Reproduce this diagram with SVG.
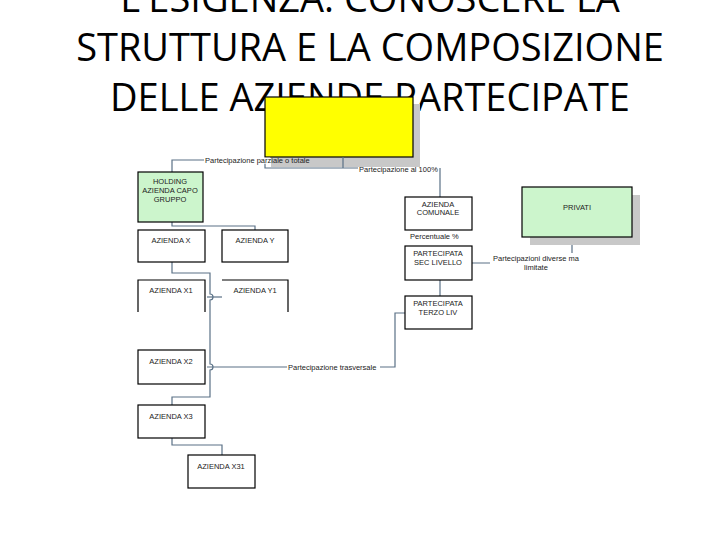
<svg xmlns="http://www.w3.org/2000/svg" width="720" height="540" viewBox="0 0 720 540">
<style>
.t{font-family:"Open Sans","Liberation Sans",sans-serif;font-size:38px;fill:#000;text-anchor:middle}
.b{fill:#fff;stroke:#000;stroke-width:1.2}
.g{fill:#ccf5cc;stroke:#000;stroke-width:1.2}
.s{fill:#c8c8c8}
.l{font-family:"Liberation Sans",sans-serif;font-size:7.5px;fill:#222;text-anchor:middle}
.c{font-family:"Liberation Sans",sans-serif;font-size:7.5px;fill:#222}
.k{fill:none;stroke:#5a7186;stroke-width:1.2}
</style>
<rect width="720" height="540" fill="#fff"/>
<text class="t" x="370" y="12">L'ESIGENZA: CONOSCERE LA</text>
<text class="t" x="370" y="61">STRUTTURA E LA COMPOSIZIONE</text>
<text class="t" x="370" y="111">DELLE AZIENDE PARTECIPATE</text>
<g id="capo"><rect class="s" x="271" y="104" width="149" height="63"/><rect x="265" y="97" width="148" height="60" fill="#ffff00" stroke="#000" stroke-width="1.2"/></g>
<g id="connectors">
<path class="k" d="M172,172 V160 H205"/>
<path class="k" d="M265,160 V168 H358 M343,157 V168 M440,168 V197"/>
<path class="k" d="M172,222 V226 H255 V230"/>
<path class="k" d="M172,262 V273 H210 V294 A3,3 0 0 1 210,300 V364 A3,3 0 0 1 210,370 V397 H172 V405"/>
<path class="k" d="M207,297 H222"/>
<path class="k" d="M207,367 H287 M380,367 H395 V313 H405"/>
<path class="k" d="M172,438 V445 H222 V455"/>
<path class="k" d="M440,280 V296"/>
<path class="k" d="M472,263 H490 M572,237 V253"/>
</g>
<rect x="204" y="157.7" width="66" height="6" fill="#fff"/>
<text class="c" x="205" y="163">Partecipazione parziale o totale</text>
<text class="c" x="359" y="172">Partecipazione al 100%</text>
<text class="c" x="288" y="370">Partecipazione trasversale</text>
<text class="l" x="536" y="261">Partecipazioni diverse ma</text>
<text class="l" x="536" y="270">limitate</text>
<text class="c" x="410" y="239">Percentuale %</text>
<g id="holding"><rect class="g" x="138" y="172" width="65" height="50"/><text class="l" x="170" y="184">HOLDING</text><text class="l" x="170" y="193">AZIENDA CAPO</text><text class="l" x="170" y="202">GRUPPO</text></g>
<g id="x"><rect class="b" x="138" y="230" width="67" height="32"/><text class="l" x="171" y="243">AZIENDA X</text></g>
<g id="y"><rect class="b" x="222" y="230" width="66" height="32"/><text class="l" x="255" y="243">AZIENDA Y</text></g>
<g id="x1"><path class="b" d="M138,312 V280 H205 V312" fill="none"/><text class="l" x="171" y="293">AZIENDA X1</text></g>
<g id="y1"><path class="b" d="M222,280 H288 V312" fill="none"/><text class="l" x="255" y="293">AZIENDA Y1</text></g>
<g id="x2"><rect class="b" x="138" y="350" width="67" height="34"/><text class="l" x="171" y="364">AZIENDA X2</text></g>
<g id="x3"><rect class="b" x="138" y="405" width="67" height="33"/><text class="l" x="171" y="419">AZIENDA X3</text></g>
<g id="x31"><rect class="b" x="188" y="455" width="67" height="33"/><text class="l" x="221" y="469">AZIENDA X31</text></g>
<g id="comunale"><rect class="b" x="405" y="197" width="67" height="33"/><text class="l" x="438" y="207">AZIENDA</text><text class="l" x="438" y="215">COMUNALE</text></g>
<g id="sec"><rect class="b" x="405" y="246" width="67" height="34"/><text class="l" x="438" y="256">PARTECIPATA</text><text class="l" x="438" y="265">SEC LIVELLO</text></g>
<g id="terzo"><rect class="b" x="405" y="296" width="67" height="33"/><text class="l" x="438" y="306">PARTECIPATA</text><text class="l" x="438" y="315">TERZO LIV</text></g>
<g id="privati"><rect class="s" x="530" y="195" width="110" height="50"/><rect class="g" x="522" y="187" width="110" height="50"/><text class="l" x="577" y="210">PRIVATI</text></g>
</svg>
